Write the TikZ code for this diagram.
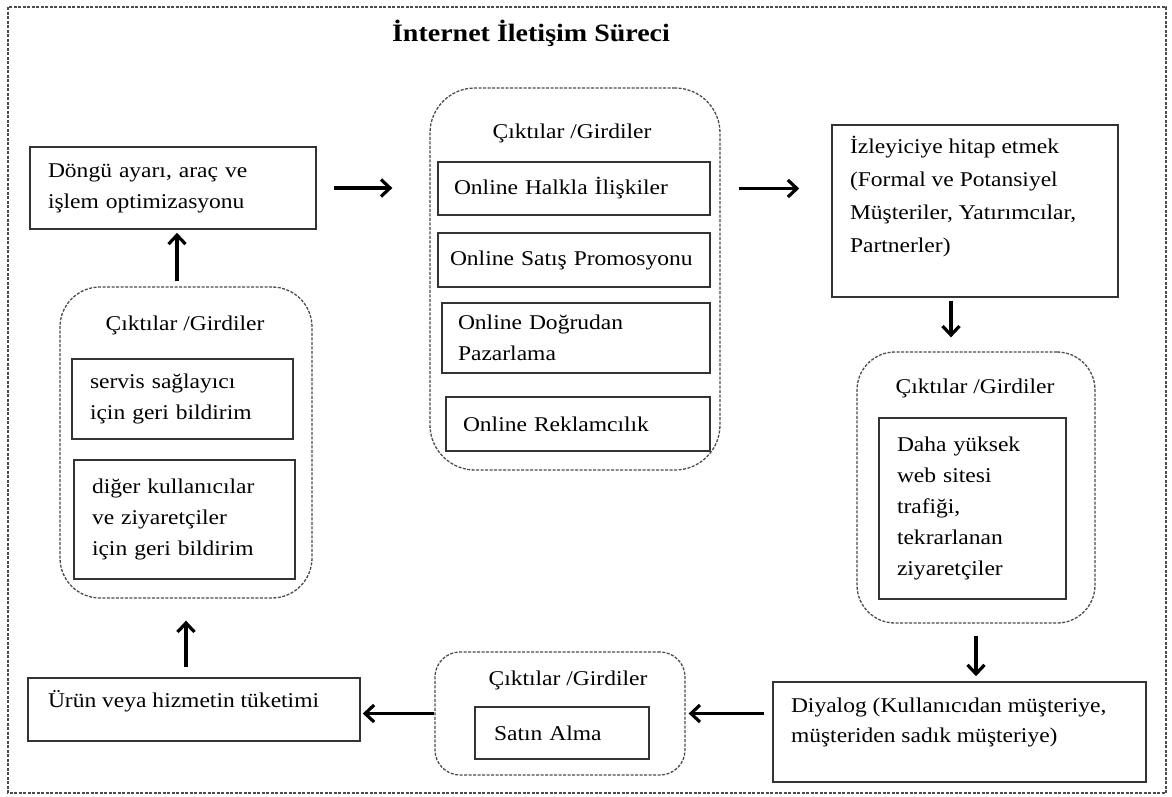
\documentclass[tikz,border=0pt]{standalone}
\usepackage{fontspec}
\setmainfont{Liberation Serif}[FakeStretch=1.12]
\usetikzlibrary{arrows.meta}

\begin{document}
\begin{tikzpicture}[x=1pt,y=-1pt,>={Straight Barb[length=9pt,width=17pt]},
	box/.style={draw=black!80, line width=1.6pt, align=left, inner xsep=0pt, inner ysep=3pt, font=\fontsize{21}{31}\selectfont},
	grp/.style={draw=black!70, line width=1.3pt, dash pattern=on 3pt off 1.5pt},
	lbl/.style={font=\fontsize{21}{31}\selectfont},
	arr/.style={->, line width=3.2pt}]
		\useasboundingbox (0,0) rectangle (1172,796);
		\draw[grp] (8,7) rectangle (1166,793);%frame
		\node[font=\fontsize{25}{29}\selectfont\bfseries] (title) at (531,33) {İnternet İletişim Süreci};
		
		\node[box, minimum width=286pt, minimum height=82pt, text width=250pt] (dongu) at (173,188) {Döngü ayarı, araç ve\\işlem optimizasyonu};
		
		\node[grp, rounded corners=45pt, minimum width=290pt, minimum height=382pt] (cgrp) at (575,279) {};%middle group
		\node[lbl] (ctitle) at (572,133) {Çıktılar /Girdiler};
		\node[box, minimum width=272pt, minimum height=53pt, text width=240pt] (halkla) at (574,188.5) {Online Halkla İlişkiler};
		\node[box, minimum width=272pt, minimum height=54pt, text width=248pt] (satis) at (574,260) {Online Satış Promosyonu};
		\node[box, minimum width=268pt, minimum height=70pt, text width=236pt] (dogru) at (576,338) {Online Doğrudan\\Pazarlama};
		\node[box, minimum width=264pt, minimum height=54pt, text width=230pt] (reklam) at (578,424) {Online Reklamcılık};
		
		\node[box, minimum width=286pt, minimum height=172pt, font=\fontsize{21}{33}\selectfont] (izle) at (975,211) {\parbox[c][150pt][t]{250pt}{İzleyiciye hitap etmek\\(Formal ve Potansiyel\\Müşteriler, Yatırımcılar,\\Partnerler)}};
		
		\node[grp, rounded corners=38pt, minimum width=238pt, minimum height=271pt] (rgrp) at (976,487.5) {};%right group
		\node[lbl] (rtitle) at (975,388) {Çıktılar /Girdiler};
		\node[box, minimum width=187pt, minimum height=181pt, text width=151pt] (trafik) at (972.5,508.5) {Daha yüksek\\web sitesi\\trafiği,\\tekrarlanan\\ziyaretçiler};
		
		\node[box, minimum width=373pt, minimum height=100pt, font=\fontsize{21}{30}\selectfont] (diyalog) at (959.5,732) {\parbox[c][68pt][t]{337pt}{Diyalog (Kullanıcıdan müşteriye,\\müşteriden sadık müşteriye)}};
		
		\node[grp, rounded corners=25pt, minimum width=250pt, minimum height=123pt] (sgrp) at (560,713.5) {};%bottom group
		\node[lbl] (stitle) at (568,680) {Çıktılar /Girdiler};
		\node[box, minimum width=174pt, minimum height=52pt, text width=136pt] (satin) at (562,733) {Satın Alma};
		
		\node[box, minimum width=332pt, minimum height=63pt] (urun) at (194,709.5) {\parbox[c][39pt][t]{292pt}{Ürün veya hizmetin tüketimi}};
		
		\node[grp, rounded corners=40pt, minimum width=252pt, minimum height=311pt] (lgrp) at (186,442.5) {};%left group
		\node[lbl] (ltitle) at (185,325) {Çıktılar /Girdiler};
		\node[box, minimum width=221pt, minimum height=80pt, text width=185pt] (servis) at (182.5,399) {servis sağlayıcı\\için geri bildirim};
		\node[box, minimum width=221pt, minimum height=119pt, text width=185pt] (diger) at (184.5,519.5) {diğer kullanıcılar\\ve ziyaretçiler\\için geri bildirim};
		
		\draw[arr] ([xshift=17pt]dongu.east) -- ([xshift=-37pt]dongu.east -| cgrp.west);
		\draw[arr] ([xshift=18pt]halkla.east -| cgrp.east) -- ([xshift=-32pt]halkla.east -| izle.west);
		\draw[arr] ([xshift=-24pt,yshift=-3pt]izle.south) -- ([xshift=-24pt,yshift=14pt]izle.south |- rgrp.north);
		\draw[arr] ([yshift=-12pt]rgrp.south) -- ([yshift=5pt]rgrp.south |- diyalog.north);
		\draw[arr] ([xshift=-8pt]diyalog.west |- sgrp.east) -- ([xshift=3pt]sgrp.east);
		\draw[arr] (sgrp.west) -- ([xshift=2pt]sgrp.west -| urun.east);
		\draw[arr] ([yshift=10pt]urun.north -| lgrp.south) -- ([yshift=-22pt]lgrp.south);
		\draw[arr] ([xshift=-9pt,yshift=5pt]lgrp.north) -- ([xshift=-9pt,yshift=-3pt]lgrp.north |- dongu.south);
\end{tikzpicture}
\end{document}
